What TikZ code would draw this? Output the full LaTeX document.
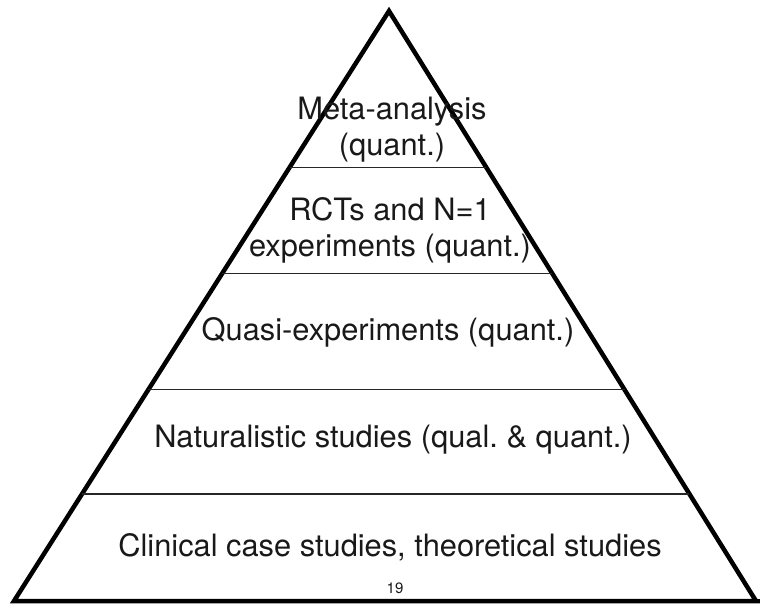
\documentclass[tikz,border=0pt]{standalone}
\usepackage{fontspec}
\setmainfont{TeX Gyre Heros}
\usetikzlibrary{calc}
\tikzset{
     edge/.style = { line width=4.5pt, line join=miter, color=black },
  divider/.style = { line width=1.5pt, color=black!85 },
    layer/.style = { font=\fontsize{30.8}{36}\selectfont, align=center, anchor=base, inner sep=0pt, text=black!90 },
  pagenum/.style = { font=\fontsize{15}{18}\selectfont, anchor=base, inner sep=0pt, text=black!90 }
}
\frenchspacing
\begin{document}
\begin{tikzpicture}[x=1pt,y=-1pt]
  \useasboundingbox (0,0) rectangle (760,603);
  \coordinate (apex)  at (389,11);
  \coordinate (left)  at (14,601);
  \coordinate (right) at (756,601);

  % pyramid outline
  \draw [edge] (apex) -- (left) -- (right) -- cycle;
  \draw [edge] (right) -- (760,601);

  % layer dividers
  \foreach \t [count=\i] in {0.2649,0.4448,0.6418,0.8183} {
    \coordinate (l\i) at ($(apex)!\t!(left)$);
    \coordinate (r\i) at ($(apex)!\t!(right)$);
    \draw [divider] (l\i) -- (r\i);
  }

  % layer labels (base = last line)
  \node [layer] (meta)    at (392,155) {Meta-analysis\\(quant.)};
  \node [layer] (rct)     at (390,256) {RCTs and N=1\\experiments (quant.)};
  \node [layer] (quasi)   at (388,340) {Quasi-experiments (quant.)};
  \node [layer] (natural) at (393,447) {Naturalistic studies (qual. \& quant.)};
  \node [layer] (clinic)  at (390,556) {Clinical case studies, theoretical studies};
  \node [pagenum] (page)  at (395,593) {19};
\end{tikzpicture}
\end{document}
